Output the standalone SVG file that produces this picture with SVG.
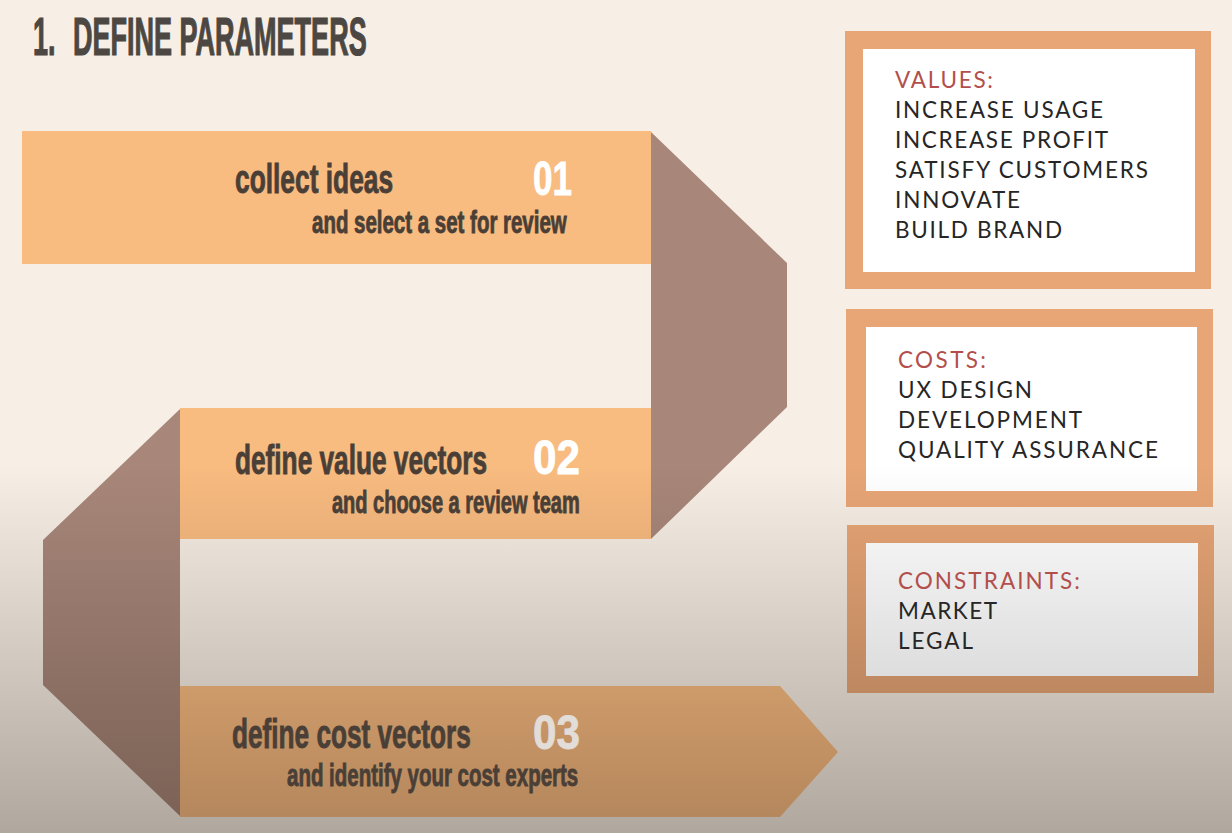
<svg xmlns="http://www.w3.org/2000/svg" width="1232" height="833" viewBox="0 0 1232 833">
  <defs>
    <!-- all fills share one vertical shade: full colour above y=465, dimmed toward the bottom edge -->
    <linearGradient id="bgFill" gradientUnits="userSpaceOnUse" x1="0" y1="465" x2="0" y2="833">
      <stop offset="0" stop-color="#f7efe5"/>
      <stop offset="1" stop-color="#b0a79f"/>
    </linearGradient>
    <linearGradient id="bandFill" gradientUnits="userSpaceOnUse" x1="0" y1="465" x2="0" y2="833">
      <stop offset="0" stop-color="#f8bb80"/>
      <stop offset="1" stop-color="#b2855b"/>
    </linearGradient>
    <linearGradient id="foldFill" gradientUnits="userSpaceOnUse" x1="0" y1="465" x2="0" y2="833">
      <stop offset="0" stop-color="#a8877a"/>
      <stop offset="1" stop-color="#7a6055"/>
    </linearGradient>
    <linearGradient id="frameFill" gradientUnits="userSpaceOnUse" x1="0" y1="465" x2="0" y2="833">
      <stop offset="0" stop-color="#e8a676"/>
      <stop offset="1" stop-color="#a47553"/>
    </linearGradient>
    <linearGradient id="paperFill" gradientUnits="userSpaceOnUse" x1="0" y1="465" x2="0" y2="833">
      <stop offset="0" stop-color="#ffffff"/>
      <stop offset="1" stop-color="#c4c4c4"/>
    </linearGradient>
  </defs>
  <style>
    .band { fill: url(#bandFill); }
    .fold { fill: url(#foldFill); }
    .frame { fill: url(#frameFill); }
    .paper { fill: url(#paperFill); }
    .title { font-family: "Liberation Sans", Arial, sans-serif; font-weight: bold; font-size: 53px; fill: #4c4742; stroke: #4c4742; stroke-width: 1.2; }
    .step { font-family: "Liberation Sans", Arial, sans-serif; font-weight: bold; fill: #4a3f37; stroke: #4a3f37; stroke-width: 0.9; }
    .main { font-size: 41px; }
    .sub { font-size: 31px; }
    .num { font-family: "Liberation Sans", Arial, sans-serif; font-weight: bold; font-size: 48px; fill: #ffffff; stroke: #ffffff; stroke-width: 0.8; }
    .list { font-family: Lato, "Open Sans", sans-serif; font-size: 22.5px; fill: #262626; }
    .head { fill: #b24f4c; }
  </style>

  <rect x="0" y="0" width="1232" height="833" fill="url(#bgFill)"/>

  <!-- condensed headline: horizontal squeeze of a bold sans -->
  <text class="title" transform="translate(33,55) scale(0.51,1)"><tspan x="0">1.</tspan><tspan x="78.4">DEFINE PARAMETERS</tspan></text>

  <!-- folds joining the ribbon segments -->
  <g id="connectors">
    <polygon class="fold" points="651,132 787,263 787,407 651,539"/>
    <polygon class="fold" points="180,409 43,540 43,685 180,816"/>
  </g>

  <g id="step1">
    <rect class="band" x="22" y="131" width="629" height="133"/>
    <text class="step main" transform="translate(235,193) scale(0.64,1)" textLength="247" lengthAdjust="spacingAndGlyphs">collect ideas</text>
    <text class="num" x="533" y="195" textLength="39" lengthAdjust="spacingAndGlyphs">01</text>
    <text class="step sub" transform="translate(312,233) scale(0.64,1)" textLength="398" lengthAdjust="spacingAndGlyphs">and select a set for review</text>
  </g>

  <g id="step2">
    <rect class="band" x="180" y="408" width="471" height="131"/>
    <text class="step main" transform="translate(235,474) scale(0.64,1)" textLength="394" lengthAdjust="spacingAndGlyphs">define value vectors</text>
    <text class="num" x="533" y="474" textLength="47" lengthAdjust="spacingAndGlyphs">02</text>
    <text class="step sub" transform="translate(332,513) scale(0.64,1)" textLength="387" lengthAdjust="spacingAndGlyphs">and choose a review team</text>
  </g>

  <g id="step3">
    <polygon class="band" points="180,686 780,686 838,752 780,817 180,817"/>
    <text class="step main" transform="translate(232,748) scale(0.64,1)" textLength="373" lengthAdjust="spacingAndGlyphs">define cost vectors</text>
    <text class="num" x="533" y="749" textLength="47" lengthAdjust="spacingAndGlyphs" style="fill:#e2ddd8;stroke:#e2ddd8">03</text>
    <text class="step sub" transform="translate(287,786) scale(0.64,1)" textLength="455" lengthAdjust="spacingAndGlyphs">and identify your cost experts</text>
  </g>

  <g id="values">
    <rect class="frame" x="845" y="31" width="366" height="258"/>
    <rect class="paper" x="863" y="49" width="332" height="223"/>
    <text class="list head" x="895" y="88" textLength="98" lengthAdjust="spacing">VALUES:</text>
    <text class="list" x="895" y="118" textLength="208" lengthAdjust="spacing">INCREASE USAGE</text>
    <text class="list" x="895" y="148" textLength="213" lengthAdjust="spacing">INCREASE PROFIT</text>
    <text class="list" x="895" y="178" textLength="253" lengthAdjust="spacing">SATISFY CUSTOMERS</text>
    <text class="list" x="895" y="208" textLength="125" lengthAdjust="spacing">INNOVATE</text>
    <text class="list" x="895" y="238" textLength="167" lengthAdjust="spacing">BUILD BRAND</text>
  </g>

  <g id="costs">
    <rect class="frame" x="846" y="309" width="367" height="198"/>
    <rect class="paper" x="866" y="327" width="331" height="164"/>
    <text class="list head" x="898" y="368" textLength="88" lengthAdjust="spacing">COSTS:</text>
    <text class="list" x="898" y="398" textLength="134" lengthAdjust="spacing">UX DESIGN</text>
    <text class="list" x="898" y="428" textLength="184" lengthAdjust="spacing">DEVELOPMENT</text>
    <text class="list" x="898" y="458" textLength="260" lengthAdjust="spacing">QUALITY ASSURANCE</text>
  </g>

  <g id="constraints">
    <rect class="frame" x="847" y="525" width="367" height="168"/>
    <rect class="paper" x="866" y="543" width="332" height="133"/>
    <text class="list head" x="898" y="589" textLength="182" lengthAdjust="spacing">CONSTRAINTS:</text>
    <text class="list" x="898" y="619" textLength="99" lengthAdjust="spacing">MARKET</text>
    <text class="list" x="898" y="649" textLength="75" lengthAdjust="spacing">LEGAL</text>
  </g>
</svg>
